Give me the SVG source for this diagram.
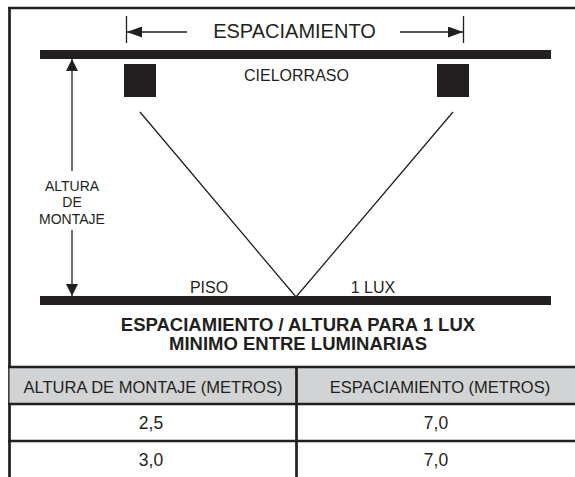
<svg xmlns="http://www.w3.org/2000/svg" width="575" height="477" viewBox="0 0 575 477">
<style>
.t{font-family:"Liberation Sans",Arial,Helvetica,sans-serif;fill:#231f20;text-anchor:middle}
.b{font-weight:bold}
.ln{stroke:#231f20;fill:none;stroke-width:1.3}
.frm{stroke:#231f20;fill:none;stroke-width:2.7}
.bar{fill:#231f20}
.hdr{fill:#d1d3d4}
</style>
<defs>
<marker id="ah" viewBox="0 0 15 11" refX="15" refY="5.5" markerWidth="15" markerHeight="11" orient="auto" markerUnits="userSpaceOnUse">
<path d="M0,0 L15,5.5 L0,11 z" fill="#231f20"/>
</marker>
<marker id="av" viewBox="0 0 12 12" refX="12" refY="6" markerWidth="12" markerHeight="12" orient="auto" markerUnits="userSpaceOnUse">
<path d="M0,0 L12,6 L0,12 z" fill="#231f20"/>
</marker>
</defs>
<rect width="575" height="477" fill="#ffffff"/>
<g id="frame">
<path class="frm" d="M8,8 H575 M9.5,7 V477"/>
</g>
<g id="ceiling">
<rect class="bar" x="40" y="50" width="511" height="9"/>
<text class="t" x="296.5" y="81" font-size="16">CIELORRASO</text>
</g>
<g id="floor">
<rect class="bar" x="40" y="296" width="511" height="9"/>
<text class="t" x="209" y="293" font-size="16">PISO</text>
<text class="t" x="373" y="293" font-size="16">1 LUX</text>
</g>
<g id="luminaire-left">
<rect class="bar" x="124" y="64" width="32" height="33"/>
</g>
<g id="luminaire-right">
<rect class="bar" x="437" y="64" width="32" height="33"/>
</g>
<g id="spacing-label">
<text class="t" x="294.5" y="37.5" font-size="20">ESPACIAMIENTO</text>
</g>
<g id="height-label">
<text class="t" x="72" y="191" font-size="14">ALTURA</text>
<text class="t" x="72" y="207" font-size="14">DE</text>
<text class="t" x="72" y="224" font-size="14">MONTAJE</text>
</g>
<g id="connectors">
<path class="ln" d="M126.5,16 V43 M463.5,16 V43"/>
<path class="ln" d="M187,32 H127" marker-end="url(#ah)"/>
<path class="ln" d="M400,32 H463" marker-end="url(#ah)"/>
<path class="ln" d="M72,171 V59" marker-end="url(#av)"/>
<path class="ln" d="M72,230 V296" marker-end="url(#av)"/>
<path class="ln" d="M140,112 L296,297 L453,112"/>
</g>
<g id="title">
<text class="t b" x="298" y="331" font-size="18.5">ESPACIAMIENTO / ALTURA PARA 1 LUX</text>
<text class="t b" x="298" y="350" font-size="18.5">MINIMO ENTRE LUMINARIAS</text>
</g>
<g id="table">
<rect class="hdr" x="9.5" y="367" width="566" height="37"/>
<path class="frm" d="M8,367 H575 M8,404 H575 M8,441 H575 M296.5,367 V477"/>
<text class="t" x="153" y="392.5" font-size="16.5">ALTURA DE MONTAJE (METROS)</text>
<text class="t" x="440" y="392.5" font-size="16.5">ESPACIAMIENTO (METROS)</text>
<text class="t" x="151" y="429" font-size="17.5">2,5</text>
<text class="t" x="436" y="429" font-size="17.5">7,0</text>
<text class="t" x="151" y="466" font-size="17.5">3,0</text>
<text class="t" x="436" y="466" font-size="17.5">7,0</text>
</g>
</svg>
